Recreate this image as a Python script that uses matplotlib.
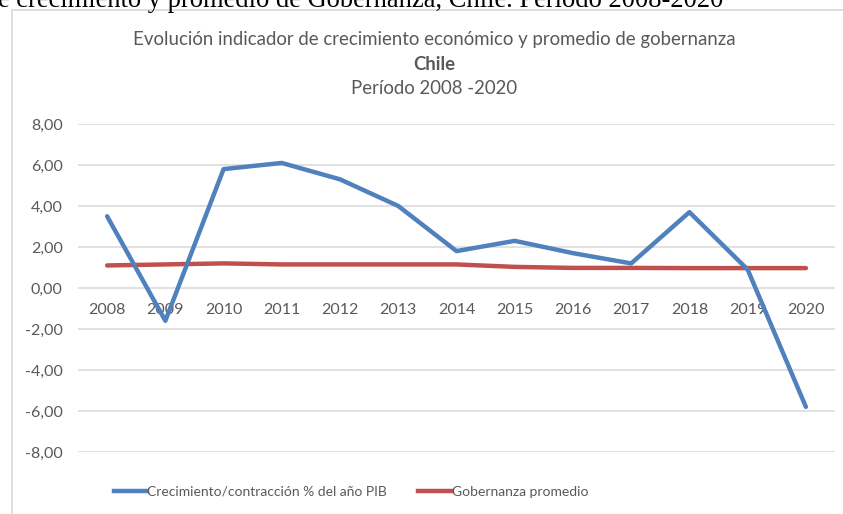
import matplotlib
matplotlib.use("Agg")
import matplotlib.pyplot as plt
from matplotlib.patches import Rectangle
from matplotlib.lines import Line2D
from matplotlib import font_manager

years = ["2008", "2009", "2010", "2011", "2012", "2013", "2014",
         "2015", "2016", "2017", "2018", "2019", "2020"]
crecimiento = [3.5, -1.6, 5.8, 6.1, 5.3, 4.0, 1.8, 2.3, 1.7, 1.2, 3.7, 0.9, -5.8]
gobernanza = [1.10, 1.15, 1.20, 1.15, 1.15, 1.15, 1.15, 1.03, 0.98, 0.98, 0.97, 0.97, 0.97]
yticks = [-8, -6, -4, -2, 0, 2, 4, 6, 8]
ytick_labels = ["-8,00", "-6,00", "-4,00", "-2,00", "0,00", "2,00", "4,00", "6,00", "8,00"]
label_crec = "Crecimiento/contracción % del año PIB"
label_gob = "Gobernanza promedio"
title1 = "Evolución indicador de crecimiento económico y promedio de gobernanza"
title2 = "Chile"
title3 = "Período 2008 -2020"
caption = "e crecimiento y promedio de Gobernanza, Chile. Período 2008-2020"

W, H = 843, 514
fig = plt.figure(figsize=(W / 100, H / 100), dpi=100)
FONT = "Lato"
names = {f.name for f in font_manager.fontManager.ttflist}
LEGFONT = "Liberation Sans Narrow" if "Liberation Sans Narrow" in names else "Lato"
LEGSIZE = 11.0 if LEGFONT != "Lato" else 10.0
GRAY = "#595959"
BLUE = "#4F81BD"
RED = "#C0504D"

# chart area border
fig.patches.append(Rectangle((11.5 / W, -0.1), 1.2, 1 - 10 / H + 0.1,
                             transform=fig.transFigure, fill=False,
                             edgecolor="#D9D9D9", lw=1.2))

# caption (cut off at top, as in the source)
fig.text(-2 / W, 1 - 7 / H, caption, family="Liberation Serif", fontsize=19.1,
         va="baseline", ha="left", color="black")

ax = fig.add_axes([78 / W, 1 - 452 / H, (835 - 78) / W, (452 - 124) / H])
x = list(range(len(years)))
ax.plot(x, crecimiento, color=BLUE, lw=3.2, solid_capstyle="round", zorder=3)
ax.plot(x, gobernanza, color=RED, lw=3.2, solid_capstyle="round", zorder=2)

ax.set_xlim(-0.5, len(years) - 0.5)
ax.set_ylim(-8, 8)
ax.set_yticks(yticks)
ax.set_yticklabels(ytick_labels)
ax.set_xticks(x)
ax.set_xticklabels(years)
ax.grid(axis="y", color="#D9D9D9", lw=1.1)
ax.set_axisbelow(True)
for s in ["left", "right", "top"]:
    ax.spines[s].set_visible(False)
ax.spines["bottom"].set_position(("data", 0))
ax.spines["bottom"].set_visible(False)
ax.tick_params(axis="both", length=0, labelcolor=GRAY, labelsize=11.5)
ax.tick_params(axis="x", pad=11)
ax.tick_params(axis="y", pad=11)
for lab in ax.get_xticklabels() + ax.get_yticklabels():
    lab.set_family(FONT)

# titles
cx = 434 / W
fig.text(cx, 1 - 40 / H, title1, ha="center", va="center", family=FONT,
         fontsize=13.4, color=GRAY)
fig.text(cx, 1 - 64 / H, title2, ha="center", va="center", family=FONT,
         fontsize=13.4, color=GRAY, fontweight="bold")
fig.text(cx, 1 - 88 / H, title3, ha="center", va="center", family=FONT,
         fontsize=13.4, color=GRAY)

# legend
handles = [Line2D([], [], color=BLUE, lw=3.2), Line2D([], [], color=RED, lw=3.2)]
hl = 23.8 / LEGSIZE
cs = 22.3 / LEGSIZE
leg = fig.legend(handles, [label_crec, label_gob], loc="center",
                 bbox_to_anchor=(351 / W, 1 - 492 / H), ncol=2, frameon=False,
                 prop={"family": LEGFONT, "size": LEGSIZE}, handlelength=hl,
                 handletextpad=0.05, columnspacing=cs)
for t in leg.get_texts():
    t.set_color(GRAY)

fig.savefig("out.png", dpi=100)
